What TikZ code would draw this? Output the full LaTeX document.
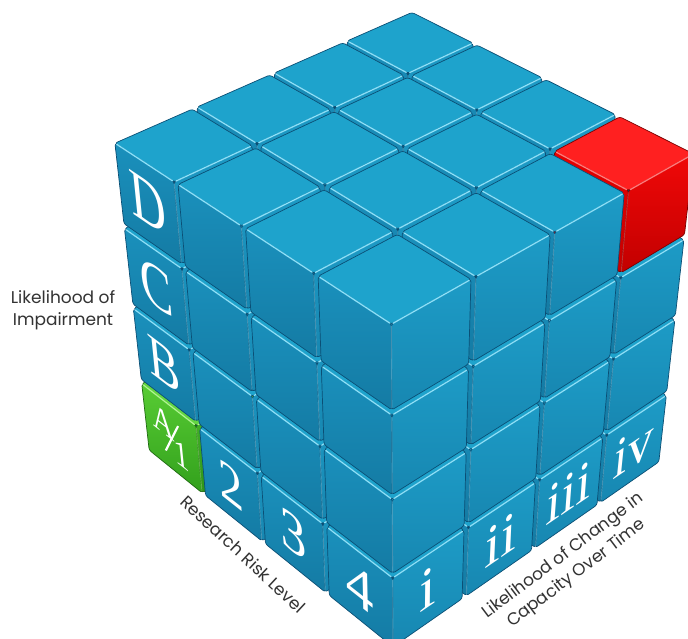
\documentclass[tikz,border=0pt]{standalone}
\usepackage{fontspec}
\setmainfont{Liberation Serif}
\newfontfamily\axfont{Poppins}
% blue scheme
\definecolor{topB}{HTML}{1EA3CC}\definecolor{ltB}{HTML}{1A90BC}\definecolor{lbB}{HTML}{147BA4}
\definecolor{rtB}{HTML}{1D9BC6}\definecolor{rbB}{HTML}{1787B1}\definecolor{edgeB}{HTML}{0B4F75}
\definecolor{hlB}{HTML}{8BE0F8}
% red scheme
\definecolor{topR}{HTML}{FF2020}\definecolor{ltR}{HTML}{E80000}\definecolor{lbR}{HTML}{C40000}
\definecolor{rtR}{HTML}{F00808}\definecolor{rbR}{HTML}{C20000}\definecolor{edgeR}{HTML}{7A0000}
\definecolor{hlR}{HTML}{FF7A7A}
% green scheme
\definecolor{topG}{HTML}{62D640}\definecolor{ltG}{HTML}{58CC34}\definecolor{lbG}{HTML}{32A01C}
\definecolor{rtG}{HTML}{4CBE2C}\definecolor{rbG}{HTML}{2E9418}\definecolor{edgeG}{HTML}{1E6A10}
\definecolor{hlG}{HTML}{B0F890}
\definecolor{backdark}{HTML}{0A4A6E}
\definecolor{axtext}{HTML}{333333}

\tikzset{
  cubeface/.style={draw=edge#1, line width=0.7pt, rounded corners=2.5pt, line join=round},
  hledge/.style={draw=hl#1, line width=1.3pt, line cap=round, shorten <=2pt, shorten >=2pt},
  vedge/.style={draw=hl#1, draw opacity=0.45, line width=0.9pt, line cap=round, shorten <=2pt, shorten >=2pt},
  lab/.style={text=white, inner sep=0pt, transform shape, font=\fontsize{80}{80}\selectfont},
  labsm/.style={text=white, inner sep=0pt, transform shape, font=\fontsize{52}{52}\selectfont},
  axl/.style={font=\axfont\fontsize{17}{22}\selectfont, text=axtext, inner sep=0pt},
}

% perspective projection of cube coordinates (X,Y,Z) in [0,4]
\newcommand\pjxy[3]{%
  \pgfmathsetmacro\qx{(#1)-2}%
  \pgfmathsetmacro\qy{(#2)-2}%
  \pgfmathsetmacro\qz{(#3)-2}%
  \pgfmathsetmacro\qw{(\qx)*\cFx+(\qy)*\cFy+(\qz)*\cFz+\camD}%
  \pgfmathsetmacro\qu{\camOx+\camF*((\qy)*\cRy-(\qx)*\cRx)/\qw}%
  \pgfmathsetmacro\qv{\camOy+\camF*((\qx)*\cUx+(\qy)*\cUy+(\qz)*\cUz)/\qw}%
}
\newcommand\pj[4]{\pjxy{#2}{#3}{#4}\coordinate (#1) at (\qu pt,\qv pt);}

\newcommand\drawcube[4]{% i j k scheme
  \pj{c000}{#1+\gp}{#2+\gp}{#3+\gp}%
  \pj{c100}{#1+1-\gp}{#2+\gp}{#3+\gp}%
  \pj{c010}{#1+\gp}{#2+1-\gp}{#3+\gp}%
  \pj{c001}{#1+\gp}{#2+\gp}{#3+1-\gp}%
  \pj{c101}{#1+1-\gp}{#2+\gp}{#3+1-\gp}%
  \pj{c011}{#1+\gp}{#2+1-\gp}{#3+1-\gp}%
  \pj{c111}{#1+1-\gp}{#2+1-\gp}{#3+1-\gp}%
  \path[cubeface=#4, fill=top#4] (c001)--(c101)--(c111)--(c011)--cycle;
  \path[cubeface=#4, top color=lt#4, bottom color=lb#4] (c000)--(c100)--(c101)--(c001)--cycle;
  \path[cubeface=#4, top color=rt#4, bottom color=rb#4] (c000)--(c010)--(c011)--(c001)--cycle;
  \draw[hledge=#4] (c001)--(c101);
  \draw[hledge=#4] (c001)--(c011);
  \draw[vedge=#4] (c001)--(c000);
}

% a scope mapped onto a cube face: centre (X,Y,Z), horizontal direction (hx,hy,hz), vertical = +Z
\newcommand\facescope[7]{%
  \pjxy{#1}{#2}{#3}\let\fcx\qu\let\fcy\qv
  \pjxy{#1+0.1*(#4)}{#2+0.1*(#5)}{#3+0.1*(#6)}%
  \pgfmathsetmacro\fax{(\qu-\fcx)/10}\pgfmathsetmacro\fay{(\qv-\fcy)/10}%
  \pjxy{#1}{#2}{#3+0.1}%
  \pgfmathsetmacro\fbx{(\qu-\fcx)/10}\pgfmathsetmacro\fby{(\qv-\fcy)/10}%
  \begin{scope}[cm={\fax,\fay,\fbx,\fby,(\fcx pt,\fcy pt)}]#7\end{scope}}
\newcommand\flab[1]{\node[lab] {#1};}

\begin{document}
\begin{tikzpicture}[x=1pt,y=1pt]
\useasboundingbox (0,0) rectangle (688,638);
\fill[white] (0,0) rectangle (688,638);
\pgfmathsetmacro\camA{43}
\pgfmathsetmacro\camT{37}
\pgfmathsetmacro\camD{18.7}
\pgfmathsetmacro\camF{1820}
\pgfmathsetmacro\camOx{403}
\pgfmathsetmacro\camOy{326}
\pgfmathsetmacro\cFx{cos(\camT)*cos(\camA)}
\pgfmathsetmacro\cFy{cos(\camT)*sin(\camA)}
\pgfmathsetmacro\cFz{-sin(\camT)}
\pgfmathsetmacro\cRx{sin(\camA)}
\pgfmathsetmacro\cRy{cos(\camA)}
\pgfmathsetmacro\cUx{sin(\camT)*cos(\camA)}
\pgfmathsetmacro\cUy{sin(\camT)*sin(\camA)}
\pgfmathsetmacro\cUz{cos(\camT)}
\def\gp{0.03}

% dark backdrop behind the gaps
\pj{bk1}{0.12}{0.12}{0.12}
\pj{bk2}{3.88}{0.12}{0.12}
\pj{bk3}{3.88}{0.12}{3.88}
\pj{bk4}{3.88}{3.88}{3.88}
\pj{bk5}{0.12}{3.88}{3.88}
\pj{bk6}{0.12}{3.88}{0.12}
\fill[backdark] (bk1)--(bk2)--(bk3)--(bk4)--(bk5)--(bk6)--cycle;

% the cubes, back to front
\foreach \ci in {3,2,1,0}{\foreach \cj in {3,2,1,0}{\foreach \ck in {0,1,2,3}{%
  \ifnum\numexpr\ci*\cj*(3-\ck)\relax=0
    \def\sch{B}%
    \ifnum\ci=0 \ifnum\cj=3 \ifnum\ck=3 \def\sch{R}\fi\fi\fi
    \ifnum\ci=3 \ifnum\cj=0 \ifnum\ck=0 \def\sch{G}\fi\fi\fi
    \edef\docube{\noexpand\drawcube{\ci}{\cj}{\ck}{\sch}}\docube
  \fi}}}

% labels on the left face
\facescope{3.5}{0.03}{3.5}{-1}{0}{0}{\flab{D}}
\facescope{3.5}{0.03}{2.5}{-1}{0}{0}{\flab{C}}
\facescope{3.5}{0.03}{1.5}{-1}{0}{0}{\flab{B}}
\facescope{3.5}{0.03}{0.5}{-1}{0}{0}{%
  \node[labsm] (lA) at (-14,14) {A};
  \draw[white, line width=2.2pt] (-14,-26) -- (14,26);
  \node[labsm] (l1) at (15,-14) {1};}
\facescope{2.5}{0.03}{0.5}{-1}{0}{0}{\flab{2}}
\facescope{1.5}{0.03}{0.5}{-1}{0}{0}{\flab{3}}
\facescope{0.5}{0.03}{0.5}{-1}{0}{0}{\flab{4}}
% labels on the right face
\facescope{0.03}{0.5}{0.5}{0}{1}{0}{\flab{i}}
\facescope{0.03}{1.5}{0.5}{0}{1}{0}{\flab{ii}}
\facescope{0.03}{2.5}{0.5}{0}{1}{0}{\flab{iii}}
\facescope{0.03}{3.5}{0.5}{0}{1}{0}{\flab{iv}}

% axis captions
\node[axl, align=center] (imp) at (63,328) {Likelihood of\\Impairment};
\node[axl, rotate=-43] (rrl) at (243,84) {Research Risk Level};
\node[axl, align=center, rotate=37] (lcc) at (570,73) {Likelihood of Change in\\Capacity Over Time};
\end{tikzpicture}
\end{document}
